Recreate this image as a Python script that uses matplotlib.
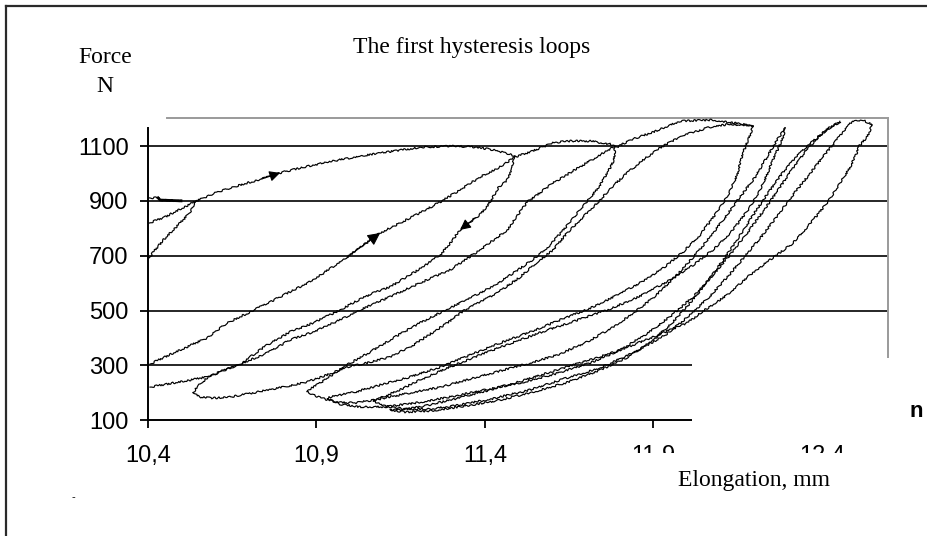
import matplotlib
matplotlib.use("Agg")
from matplotlib import pyplot as plt
from matplotlib.lines import Line2D
from matplotlib.patches import Rectangle

# ---- data (elongation mm, force N) ----
x_ticks = [10.4, 10.9, 11.4, 11.9, 12.4]
x_tick_labels = ["10,4", "10,9", "11,4", "11,9", "12,4"]
y_ticks = [100, 300, 500, 700, 900, 1100]
grid_levels = [300, 500, 700, 900, 1100]

# short pieces at the left edge
steep_x = [10.403, 10.421, 10.445, 10.474, 10.504, 10.525, 10.537, 10.545]
steep_y = [692, 721, 757, 794, 830, 859, 889, 900]
flat_x = [10.403, 10.430, 10.436, 10.498]
flat_y = [911, 911, 903, 900]

# first loop: top loading, unloading, first tongue and reload
loop1_x = [10.403, 10.450, 10.501, 10.545, 10.599, 10.673, 10.738, 10.792, 10.866, 10.949,
           11.035, 11.133, 11.216, 11.311, 11.371, 11.430, 11.489, 11.483, 11.480, 11.466,
           11.439, 11.424, 11.406, 11.385, 11.371, 11.326, 11.288, 11.267, 11.207, 11.118,
           11.068, 11.008, 10.970, 10.890, 10.821, 10.753, 10.703, 10.673, 10.623, 10.575,
           10.545, 10.534, 10.554, 10.593, 10.643, 10.724, 10.801, 10.872, 10.931, 10.991,
           11.050, 11.118, 11.187, 11.288, 11.335, 11.436, 11.504, 11.555, 11.602, 11.644,
           11.682, 11.733, 11.777, 11.825, 11.869, 11.920, 11.955, 12.009, 12.068, 12.127,
           12.196]
loop1_y = [819, 841, 874, 900, 929, 958, 980, 1002, 1024, 1045,
           1064, 1082, 1096, 1100, 1096, 1085, 1064, 1038, 1013, 976,
           947, 914, 878, 849, 838, 794, 732, 703, 652, 586,
           564, 528, 502, 455, 422, 374, 331, 302, 283, 254,
           221, 200, 185, 181, 185, 203, 221, 240, 265, 294,
           309, 331, 374, 455, 498, 564, 622, 677, 721, 783,
           830, 892, 951, 1005, 1049, 1093, 1118, 1147, 1169, 1180,
           1173]

# loading line with the big arrow, running on over the top
load2_x = [10.406, 10.474, 10.575, 10.635, 10.703, 10.792, 10.890, 10.991, 11.089, 11.207,
           11.267, 11.326, 11.385, 11.445, 11.489, 11.525, 11.564, 11.602, 11.638, 11.712,
           11.771, 11.792, 11.831, 11.899, 11.979, 12.077, 12.178, 12.196]
load2_y = [305, 345, 400, 455, 495, 550, 611, 695, 783, 856,
           896, 940, 987, 1024, 1060, 1075, 1093, 1111, 1118, 1118,
           1107, 1096, 1122, 1151, 1191, 1195, 1177, 1173]

# lower of the two parallel lines
par_x = [10.406, 10.474, 10.575, 10.652, 10.703, 10.753, 10.821, 10.890, 10.970, 11.029,
         11.118, 11.207, 11.296, 11.385, 11.466, 11.525, 11.602, 11.682, 11.780]
par_y = [221, 236, 258, 294, 320, 345, 393, 422, 466, 502,
         550, 601, 648, 721, 794, 896, 965, 1024, 1096]

# second loop
loop2_x = [11.786, 11.783, 11.765, 11.742, 11.712, 11.676, 11.638, 11.593, 11.549, 11.489,
           11.430, 11.356, 11.282, 11.207, 11.133, 11.059, 10.985, 10.925, 10.887, 10.872,
           10.905, 10.955, 11.014, 11.089, 11.178, 11.267, 11.356, 11.445, 11.534, 11.614,
           11.697, 11.777, 11.845, 11.905, 11.964, 12.018, 12.068, 12.113, 12.157, 12.202,
           12.237, 12.267, 12.291]
loop2_y = [1100, 1049, 1005, 958, 911, 859, 801, 739, 692, 641,
           593, 546, 502, 455, 404, 349, 298, 247, 218, 203,
           185, 167, 163, 178, 200, 221, 251, 280, 309, 338,
           382, 437, 495, 553, 622, 695, 768, 841, 914, 987,
           1060, 1122, 1166]

# third loop
loop3_x = [12.196, 12.181, 12.166, 12.148, 12.122, 12.083, 12.038, 11.988, 11.929, 11.860,
           11.786, 11.712, 11.623, 11.534, 11.445, 11.356, 11.267, 11.178, 11.089, 11.014,
           10.955, 10.931, 10.970, 11.029, 11.104, 11.193, 11.296, 11.400, 11.504, 11.608,
           11.712, 11.801, 11.884, 11.955, 12.018, 12.074, 12.127, 12.178, 12.226, 12.270,
           12.311, 12.350, 12.389, 12.424, 12.454]
loop3_y = [1173, 1122, 1075, 994, 922, 849, 776, 714, 655, 601,
           553, 509, 466, 422, 382, 338, 294, 258, 229, 203,
           189, 181, 159, 149, 149, 163, 185, 211, 236, 269,
           309, 356, 418, 484, 550, 626, 703, 783, 863, 940,
           1013, 1078, 1133, 1169, 1188]

# fourth loop
loop4_x = [12.291, 12.282, 12.261, 12.240, 12.217, 12.181, 12.136, 12.083, 12.018, 11.944,
           11.860, 11.771, 11.676, 11.578, 11.480, 11.385, 11.296, 11.207, 11.133, 11.089,
           11.068, 11.104, 11.163, 11.237, 11.326, 11.430, 11.534, 11.623, 11.742, 11.845,
           11.935, 12.009, 12.068, 12.122, 12.172, 12.222, 12.270, 12.314, 12.359, 12.400,
           12.439, 12.469, 12.490, 12.528, 12.549]
loop4_y = [1166, 1122, 1067, 1005, 940, 867, 794, 728, 666, 608,
           553, 506, 466, 426, 382, 338, 294, 247, 203, 181,
           170, 152, 141, 141, 156, 181, 211, 247, 291, 349,
           411, 484, 553, 626, 699, 772, 849, 922, 991, 1056,
           1115, 1159, 1191, 1191, 1177]

# outermost loop
loop5_x = [12.549, 12.534, 12.508, 12.504, 12.484, 12.454, 12.415, 12.374, 12.314, 12.237,
           12.178, 12.127, 12.047, 12.000, 11.899, 11.801, 11.712, 11.623, 11.519, 11.415,
           11.311, 11.222, 11.148, 11.118, 11.163, 11.237, 11.326, 11.430, 11.534, 11.638,
           11.736, 11.825, 11.896, 11.955, 12.009, 12.059, 12.107, 12.152, 12.196, 12.240,
           12.285, 12.329, 12.371, 12.412, 12.454]
loop5_y = [1177, 1133, 1096, 1075, 1024, 965, 892, 830, 746, 677,
           622, 564, 498, 455, 404, 356, 320, 287, 247, 211,
           178, 152, 138, 138, 130, 134, 149, 170, 200, 236,
           280, 331, 389, 455, 528, 604, 684, 765, 849, 929,
           1005, 1067, 1115, 1158, 1188]

W, H = 928, 536
fig = plt.figure(figsize=(W / 100, H / 100), dpi=100)
fig.patch.set_facecolor("white")

ax = fig.add_axes([148 / W, 1 - 420.3 / H, 740 / W, 302 / H])
ax.set_xlim(10.4, 12.596)
ax.set_ylim(100, 1201)

for lvl in grid_levels:
    ax.axhline(lvl, color="#151515", lw=1.3, zorder=1)

curves = [(steep_x, steep_y), (flat_x, flat_y), (loop1_x, loop1_y), (load2_x, load2_y),
          (par_x, par_y), (loop2_x, loop2_y), (loop3_x, loop3_y), (loop4_x, loop4_y),
          (loop5_x, loop5_y)]
for cx, cy in curves:
    ln, = ax.plot(cx, cy, color="black", lw=0.85, zorder=3)
    # recorded signal is a bit ragged
    ln.set_sketch_params(scale=0.9, length=4, randomness=10)
ax.plot(flat_x[1:], flat_y[1:], color="black", lw=2.0, zorder=3)

# direction arrows placed on curve points
def arrow(xs, ys, i0, i1, size):
    ax.annotate("", xy=(xs[i1], ys[i1]), xytext=(xs[i0], ys[i0]),
                arrowprops=dict(arrowstyle="-|>", color="black", lw=0.8,
                                mutation_scale=size, shrinkA=0, shrinkB=0), zorder=4)

arrow(loop1_x, loop1_y, 6, 7, 16)
arrow(load2_x, load2_y, 7, 8, 19)
arrow(loop1_x, loop1_y, 24, 25, 16)

# axes frame: black left/bottom, grey top/right drawn by hand
for s in ["top", "right"]:
    ax.spines[s].set_visible(False)
ax.spines["left"].set_color("black")
ax.spines["bottom"].set_color("black")
ax.spines["left"].set_linewidth(1.4)
ax.spines["bottom"].set_linewidth(1.4)
ax.spines["left"].set_bounds(100, 1166)
ax.add_line(Line2D([(166.7 - 148) / 740, 1.0], [1.0, 1.0], transform=ax.transAxes,
                   color="#9a9a9a", lw=1.4, clip_on=False))
ax.add_line(Line2D([1.0, 1.0], [1.0, (420.3 - 358) / 302], transform=ax.transAxes,
                   color="#9a9a9a", lw=1.4, clip_on=False))

ax.set_xticks(x_ticks)
ax.set_xticklabels(x_tick_labels)
ax.set_yticks(y_ticks)
ax.tick_params(axis="both", direction="out", length=6, width=1.3, color="black",
               labelsize=17)
ax.tick_params(axis="x", pad=12)
ax.tick_params(axis="y", pad=8)
for lab in ax.get_xticklabels() + ax.get_yticklabels():
    lab.set_fontfamily("Liberation Sans")

# white patches that cover parts of the chart in the original
fig.add_artist(Rectangle((692 / W, 1 - 439 / H), 1 - 692 / W, 81 / H,
                         transform=fig.transFigure, facecolor="white", edgecolor="none", zorder=10))
fig.add_artist(Rectangle((600 / W, 0), 1 - 600 / W, 1 - 453 / H,
                         transform=fig.transFigure, facecolor="white", edgecolor="none", zorder=10))

# outer border (left and top only)
fig.add_artist(Line2D([6 / W, 6 / W], [0, 1 - 6 / H], transform=fig.transFigure,
                      color="#2a2a2a", lw=1.6, zorder=11))
fig.add_artist(Line2D([6 / W, 1], [1 - 6 / H, 1 - 6 / H], transform=fig.transFigure,
                      color="#2a2a2a", lw=1.6, zorder=11))

serif = "Liberation Serif"
fig.text(472 / W, 1 - 53 / H, "The first hysteresis loops", family=serif, fontsize=17,
         ha="center", va="baseline", zorder=12)
fig.text(105 / W, 1 - 63 / H, "Force", family=serif, fontsize=17,
         ha="center", va="baseline", zorder=12)
fig.text(105 / W, 1 - 92 / H, "N", family=serif, fontsize=17,
         ha="center", va="baseline", zorder=12)
fig.text(678 / W, 1 - 486 / H, "Elongation, mm", family=serif, fontsize=17,
         ha="left", va="baseline", zorder=12)
fig.text(916 / W, 1 - 417 / H, "n", family="Liberation Sans", fontweight="bold",
         fontsize=16, ha="center", va="baseline", zorder=12)
fig.text(73 / W, 1 - 500 / H, "-", family="Liberation Sans", fontsize=8,
         ha="center", va="baseline", zorder=12)

fig.savefig("out.png", dpi=100)
plt.close(fig)
